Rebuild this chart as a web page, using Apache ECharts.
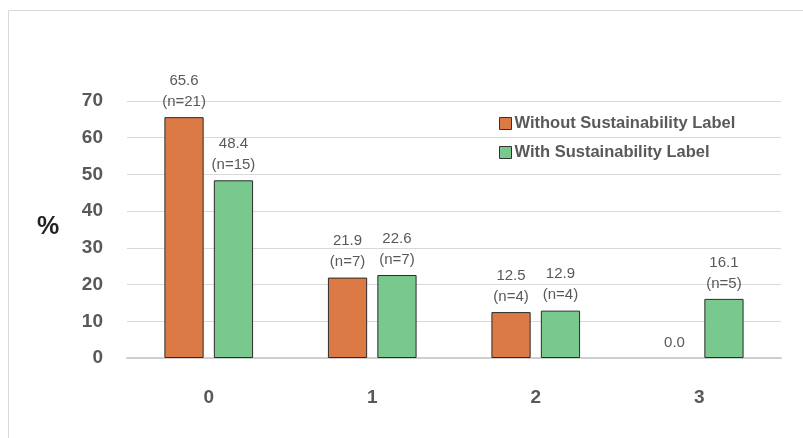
<!DOCTYPE html>
<html>
<head>
<meta charset="utf-8">
<script src="https://cdn.jsdelivr.net/npm/echarts@6/dist/echarts.min.js"></script>
<style>
html,body{margin:0;padding:0;background:#fff;}
#chart{width:803px;height:438px;}
</style>
</head>
<body>
<div id="chart"></div>
<script>
// Number of sustainability labels chosen (x) and share of respondents (%)
const categories = ['0', '1', '2', '3'];
const seriesNames = ['Without Sustainability Label', 'With Sustainability Label'];
const withoutPct = [65.6, 21.9, 12.5, 0.0];
const withoutN = [21, 7, 4, 0];
const withPct = [48.4, 22.6, 12.9, 16.1];
const withN = [15, 7, 4, 5];
const yTicks = [0, 10, 20, 30, 40, 50, 60, 70];

const colors = ['#DB7A44', '#79C88E'];

function labelText(pctArr, nArr) {
  return function (p) {
    const i = p.dataIndex;
    const v = pctArr[i].toFixed(1);
    return nArr[i] > 0 ? v + '\n(n=' + nArr[i] + ')' : v;
  };
}

// zero-height bars get no outline so nothing shows at the baseline
function barData(values) {
  return values.map(v => v === 0 ? { value: v, itemStyle: { borderWidth: 0 } } : v);
}

const chart = echarts.init(document.getElementById('chart'), null, { renderer: 'canvas' });

const barLabel = (pctArr, nArr) => ({
  show: true,
  position: 'top',
  distance: 5,
  color: '#595959',
  fontSize: 15,
  lineHeight: 21,
  fontFamily: 'Liberation Sans, Arial, sans-serif',
  formatter: labelText(pctArr, nArr)
});

chart.setOption({
  animation: false,
  backgroundColor: '#ffffff',
  graphic: [{
    type: 'rect',
    shape: { x: 8.5, y: 10.5, width: 820, height: 460 },
    style: { fill: 'none', stroke: '#d9d9d9', lineWidth: 1 },
    silent: true,
    z: -10
  }, {
    type: 'text',
    left: 37,
    top: 215,
    style: {
      text: '%',
      fill: '#222222',
      font: 'bold 25px Liberation Sans, Arial, sans-serif'
    }
  }],
  legend: {
    orient: 'vertical',
    left: 494,
    top: 110,
    itemWidth: 12,
    itemHeight: 12,
    itemGap: 12,
    icon: 'rect',
    data: seriesNames,
    itemStyle: { borderColor: '#333333', borderWidth: 1 },
    textStyle: {
      color: '#595959',
      fontSize: 16.5,
      fontWeight: 'bold',
      fontFamily: 'Liberation Sans, Arial, sans-serif',
      padding: [0, 0, 0, -2]
    }
  },
  grid: { left: 127, right: 22, top: 101, bottom: 80, containLabel: false },
  xAxis: {
    type: 'category',
    data: categories,
    axisTick: { show: false },
    axisLine: { lineStyle: { color: '#cfcfcf', width: 2 } },
    axisLabel: {
      margin: 30,
      color: '#595959',
      fontSize: 19,
      fontWeight: 'bold',
      fontFamily: 'Liberation Sans, Arial, sans-serif'
    }
  },
  yAxis: {
    type: 'value',
    min: yTicks[0],
    max: yTicks[yTicks.length - 1],
    interval: 10,
    axisLine: { show: false },
    axisTick: { show: false },
    splitLine: { lineStyle: { color: '#d9d9d9', width: 1 } },
    axisLabel: {
      margin: 24,
      color: '#595959',
      fontSize: 19,
      fontWeight: 'bold',
      fontFamily: 'Liberation Sans, Arial, sans-serif'
    }
  },
  series: [{
    name: seriesNames[0],
    type: 'bar',
    data: barData(withoutPct),
    barWidth: '24%',
    barGap: '26%',
    itemStyle: { color: colors[0], borderColor: '#2b2b2b', borderWidth: 1 },
    label: barLabel(withoutPct, withoutN)
  }, {
    name: seriesNames[1],
    type: 'bar',
    data: barData(withPct),
    barWidth: '24%',
    itemStyle: { color: colors[1], borderColor: '#2b2b2b', borderWidth: 1 },
    label: barLabel(withPct, withN)
  }]
});
</script>
</body>
</html>
